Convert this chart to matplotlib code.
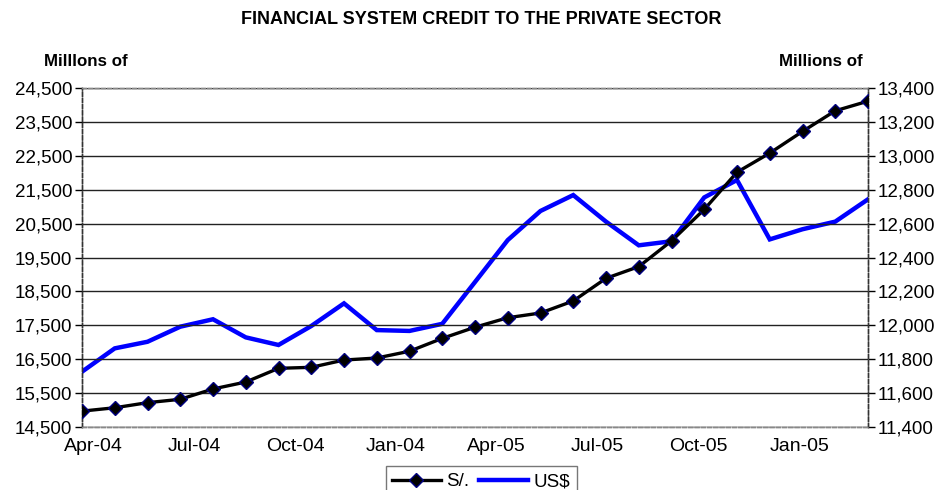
from matplotlib import pyplot as plt
from matplotlib.lines import Line2D
import numpy as np

plt.rcParams['font.family'] = ['Liberation Sans', 'DejaVu Sans']

# monthly credit stock, Apr-04 .. Apr-06 (25 months)
soles = [14960, 15060, 15210, 15310, 15615, 15820, 16225, 16255, 16470, 16530,
         16730, 17110, 17440, 17720, 17860, 18215, 18885, 19230, 19990, 20920,
         22020, 22585, 23225, 23835, 24120]
dollars = [11725, 11863, 11902, 11991, 12035, 11928, 11883, 11995, 12129, 11971,
           11966, 12008, 12255, 12503, 12675, 12769, 12612, 12472, 12496, 12755,
           12858, 12507, 12567, 12612, 12744]
tick_labels = ['Apr-04', 'Jul-04', 'Oct-04', 'Jan-04', 'Apr-05', 'Jul-05',
               'Oct-05', 'Jan-05']

fig = plt.figure(figsize=(9.44, 4.90), dpi=100)
ax = fig.add_axes([82 / 944, 1 - 426.7 / 490, 786 / 944, 338.4 / 490])
ax2 = ax.twinx()

x = np.arange(len(soles))

ax.set_xlim(0, len(soles) - 1)
ax.set_ylim(14500, 24500)
ax.set_yticks(np.arange(14500, 24501, 1000))
ax.yaxis.set_major_formatter(plt.FuncFormatter(lambda v, p: f'{v:,.0f}'))
ax.grid(axis='y', color='#222222', linewidth=1.0)
ax.set_axisbelow(True)

ax2.set_ylim(11400, 13400)
ax2.set_yticks(np.arange(11400, 13401, 200))
ax2.yaxis.set_major_formatter(plt.FuncFormatter(lambda v, p: f'{v:,.0f}'))

# category labels sit slightly right of their month
ticks = np.arange(0, len(soles) - 1, 3) * 1.027 + 0.34
ax.set_xticks(ticks)
ax.set_xticklabels(tick_labels)
ax.tick_params(axis='x', length=0, pad=8, labelsize=14)
ax.tick_params(axis='y', length=5, width=1, direction='out', pad=2, labelsize=13.5)
ax2.tick_params(axis='y', length=5, width=1, direction='out', pad=2, labelsize=13.5)

for a in (ax, ax2):
    for side in ('left', 'right'):
        a.spines[side].set_linestyle((0, (3, 1.5)))
        a.spines[side].set_color('#333333')
        a.spines[side].set_linewidth(1.0)
    for side in ('top', 'bottom'):
        a.spines[side].set_linestyle((0, (3, 1.5)))
        a.spines[side].set_color('#888888')
        a.spines[side].set_linewidth(1.0)

ax2.plot(x, dollars, color='#0000ff', linewidth=3.2, solid_joinstyle='miter',
         zorder=2)
ax.set_zorder(ax2.get_zorder() + 1)
ax.patch.set_visible(False)
ax.plot(x, soles, color='black', linewidth=2.4, marker='D', markersize=7,
        markerfacecolor='black', markeredgecolor='#000080', markeredgewidth=1.0,
        zorder=3)

fig.text(481 / 944, 1 - 20 / 490, 'FINANCIAL SYSTEM CREDIT TO THE PRIVATE SECTOR',
         ha='center', va='center', fontsize=13, fontweight='bold')
fig.text(86 / 944, 1 - 62 / 490, 'Milllons of', ha='center', va='center',
         fontsize=12.2, fontweight='bold')
fig.text(821 / 944, 1 - 62 / 490, 'Millions of', ha='center', va='center',
         fontsize=12.2, fontweight='bold')

handles = [Line2D([], [], color='black', linewidth=2.4, marker='D', markersize=7,
                  markerfacecolor='black', markeredgecolor='#000080'),
           Line2D([], [], color='#0000ff', linewidth=3.2)]
fig.legend(handles, ['S/.', 'US$'], loc='upper center',
           bbox_to_anchor=(481 / 944, 1 - 457 / 490), ncol=2, fontsize=13.5,
           frameon=True, fancybox=False, edgecolor='#555555', handlelength=2.6,
           handletextpad=0.3, columnspacing=0.5, borderpad=0.35,
           markerscale=1.0)

fig.savefig('out.png', dpi=100)
